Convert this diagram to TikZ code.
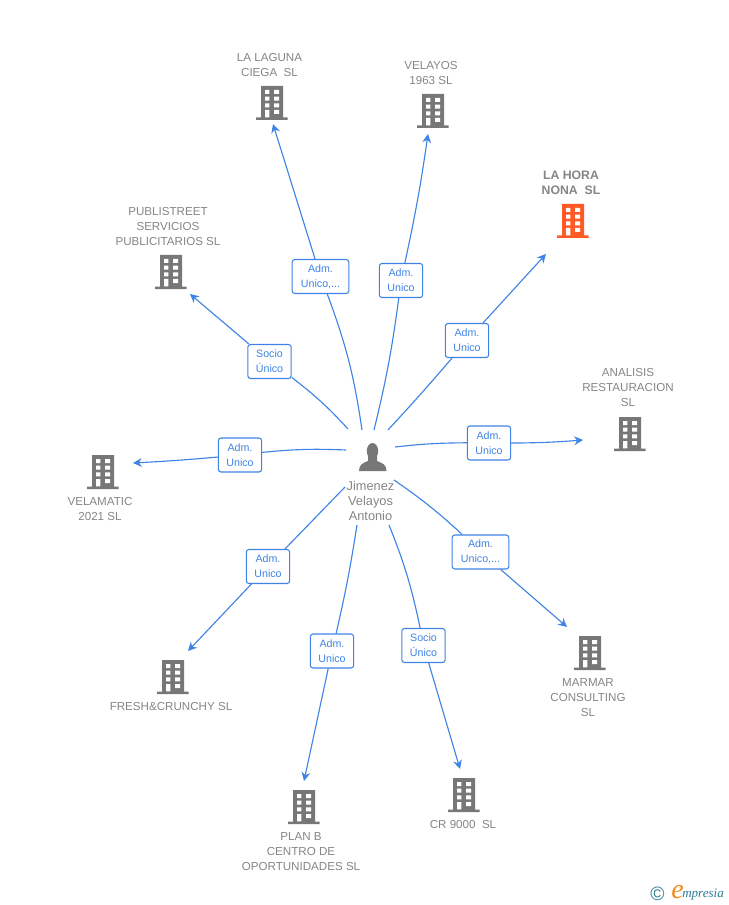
\documentclass[tikz,border=0pt]{standalone}
\usepackage{fontspec}
\setmainfont{Liberation Sans}
\newfontfamily\logofont{Liberation Serif}
\usetikzlibrary{arrows.meta}
\definecolor{linkblue}{HTML}{3F84E5}
\definecolor{iconGray}{HTML}{777777}
\definecolor{labGray}{HTML}{858585}
\definecolor{hotOrange}{HTML}{FF5A26}
\definecolor{logoTeal}{HTML}{2F7F96}
\definecolor{logoOrange}{HTML}{F28C1E}
\tikzset{
  link/.style={draw=linkblue, line width=0.85pt},
  arr/.style={link, -{Stealth[length=6.6pt,width=6.6pt]}},
  role/.style={draw=linkblue, line width=0.8pt, fill=white, rounded corners=2pt, align=center,
    text=linkblue, font=\fontsize{8}{11.25}\selectfont, inner sep=0pt, minimum height=25.5pt},
  roleS/.style={role, minimum width=32.5pt},
  roleL/.style={role, minimum width=42.5pt},
  lab/.style={text=labGray, align=center, font=\fontsize{8.7}{11.25}\selectfont, inner sep=0pt},
  labh/.style={lab, font=\bfseries\fontsize{9.2}{11.25}\selectfont},
  labp/.style={lab, font=\fontsize{9.6}{11.25}\selectfont},
  pics/bldg/.style={code={
    \fill[pic actions] (-11,-17) rectangle (11,14.5) (-16,14.5) rectangle (15.5,17);
    \fill[white] (-7,-13) rectangle (-2.7,-9) (2,-13) rectangle (7,-9)
      (-7,-6.3) rectangle (-2.7,-2.3) (2,-6.3) rectangle (7,-2.3)
      (-7,0.3) rectangle (-2.7,4.3) (2,0.3) rectangle (7,4.3)
      (-7,7) rectangle (-2.7,14.3) (2,7) rectangle (7,11);
  }},
}

\begin{document}
\begin{tikzpicture}[x=0.75pt,y=-0.75pt]
  \useasboundingbox (0,0) rectangle (728,905);

  % buildings
  \pic[fill=iconGray] at (272,103) {bldg};
  \pic[fill=iconGray] at (433,111) {bldg};
  \pic[fill=hotOrange] at (573,221) {bldg};
  \pic[fill=iconGray] at (171,272) {bldg};
  \pic[fill=iconGray] at (630,434) {bldg};
  \pic[fill=iconGray] at (103,472) {bldg};
  \pic[fill=iconGray] at (173,677) {bldg};
  \pic[fill=iconGray] at (304,807) {bldg};
  \pic[fill=iconGray] at (464,795) {bldg};
  \pic[fill=iconGray] at (590,653) {bldg};

  % names
  \node[lab] (nLaguna) at (269.5,65.2) {LA LAGUNA\\CIEGA\ \ SL};
  \node[lab] (nVelayos) at (431,73) {VELAYOS\\1963 SL};
  \node[labh] (nHora) at (571,182.7) {LA HORA\\NONA\ \ SL};
  \node[lab] (nPubli) at (168,226.7) {PUBLISTREET\\SERVICIOS\\PUBLICITARIOS SL};
  \node[lab] (nAnalisis) at (628,387.7) {ANALISIS\\RESTAURACION\\SL};
  \node[lab] (nVelamatic) at (100,509) {VELAMATIC\\2021 SL};
  \node[lab] (nFresh) at (171,706) {FRESH\&CRUNCHY SL};
  \node[lab] (nPlan) at (301,851.7) {PLAN B\\CENTRO DE\\OPORTUNIDADES SL};
  \node[lab] (nCr) at (463,824) {CR 9000\ \ SL};
  \node[lab] (nMarmar) at (588,697.7) {MARMAR\\CONSULTING\\SL};

  % person
  \fill[iconGray] (372.5,451) ellipse (5.7 and 8);
  \fill[iconGray] (359,471) .. controls (359,464.5) and (363,463) .. (368,461) -- (368,456)
    -- (377,456) -- (377,461) .. controls (382,463) and (386.5,464.5) .. (386.5,471) -- cycle;
  \node[labp] (nPerson) at (370.5,500.5) {Jimenez\\Velayos\\Antonio};

  % roles
  \node[roleL] (rLaguna) at (320.5,276.5) {Adm.\\Unico,...};
  \node[roleS] (rVelayos) at (401,280.5) {Adm.\\Unico};
  \node[roleS] (rHora) at (467,340.5) {Adm.\\Unico};
  \node[roleS] (rPubli) at (269.5,361.5) {Socio\\Único};
  \node[roleS] (rAnalisis) at (489,443) {Adm.\\Unico};
  \node[roleS] (rVelamatic) at (240,455) {Adm.\\Unico};
  \node[roleS] (rFresh) at (268,566.5) {Adm.\\Unico};
  \node[roleS] (rPlan) at (332,651) {Adm.\\Unico};
  \node[roleS] (rCr) at (423.5,645.5) {Socio\\Único};
  \node[roleL] (rMarmar) at (480.5,552) {Adm.\\Unico,...};

  % ends of the links at the person
  \coordinate (sLaguna) at (362,430);
  \coordinate (sVelayos) at (374,430);
  \coordinate (sHora) at (388,430);
  \coordinate (sPubli) at (348,429);
  \coordinate (sAnalisis) at (395,447);
  \coordinate (sVelamatic) at (346,450);
  \coordinate (sFresh) at (345,487);
  \coordinate (sPlan) at (357,525);
  \coordinate (sCr) at (389,525);
  \coordinate (sMarmar) at (394,480);

  % ends of the links at the buildings
  \coordinate (tLaguna) at (273,124);
  \coordinate (tVelayos) at (428,134);
  \coordinate (tHora) at (546,254);
  \coordinate (tPubli) at (190,294);
  \coordinate (tAnalisis) at (583,440);
  \coordinate (tVelamatic) at (133,463);
  \coordinate (tFresh) at (188,651);
  \coordinate (tPlan) at (304,781);
  \coordinate (tCr) at (460,769);
  \coordinate (tMarmar) at (567,627);

  \draw[link] (sLaguna) to[bend right=6] (rLaguna);
  \draw[arr] (rLaguna) -- (tLaguna);
  \draw[link] (sVelayos) to[bend right=3] (rVelayos);
  \draw[arr] (rVelayos) to[bend right=2] (tVelayos);
  \draw[link] (sHora) to[bend right=1] (rHora);
  \draw[arr] (rHora) -- (tHora);
  \draw[link] (sPubli) to[bend right=5] (rPubli);
  \draw[arr] (rPubli) -- (tPubli);
  \draw[link] (sAnalisis) to[bend left=3] (rAnalisis);
  \draw[arr] (rAnalisis) to[bend right=2] (tAnalisis);
  \draw[link] (sVelamatic) to[bend right=4] (rVelamatic);
  \draw[arr] (rVelamatic) to[bend left=1] (tVelamatic);
  \draw[link] (sFresh) -- (rFresh);
  \draw[arr] (rFresh) -- (tFresh);
  \draw[link] (sPlan) to[bend left=2] (rPlan);
  \draw[arr] (rPlan) -- (tPlan);
  \draw[link] (sCr) to[bend left=5] (rCr);
  \draw[arr] (rCr) -- (tCr);
  \draw[link] (sMarmar) to[bend left=4] (rMarmar);
  \draw[arr] (rMarmar) -- (tMarmar);

  % logo
  \node[text=logoTeal, font=\fontsize{14.5}{14}\selectfont, inner sep=0pt] (cLogo) at (657.5,894) {\char"00A9};
  \node[text=logoOrange, font=\logofont\itshape\fontsize{21}{21}\selectfont, inner sep=0pt] (eLogo) at (677.5,892) {e};
  \node[text=logoTeal, font=\logofont\itshape\fontsize{9.8}{12}\selectfont, inner sep=0pt, anchor=west] (wLogo) at (682,895) {mpresia};
\end{tikzpicture}
\end{document}
